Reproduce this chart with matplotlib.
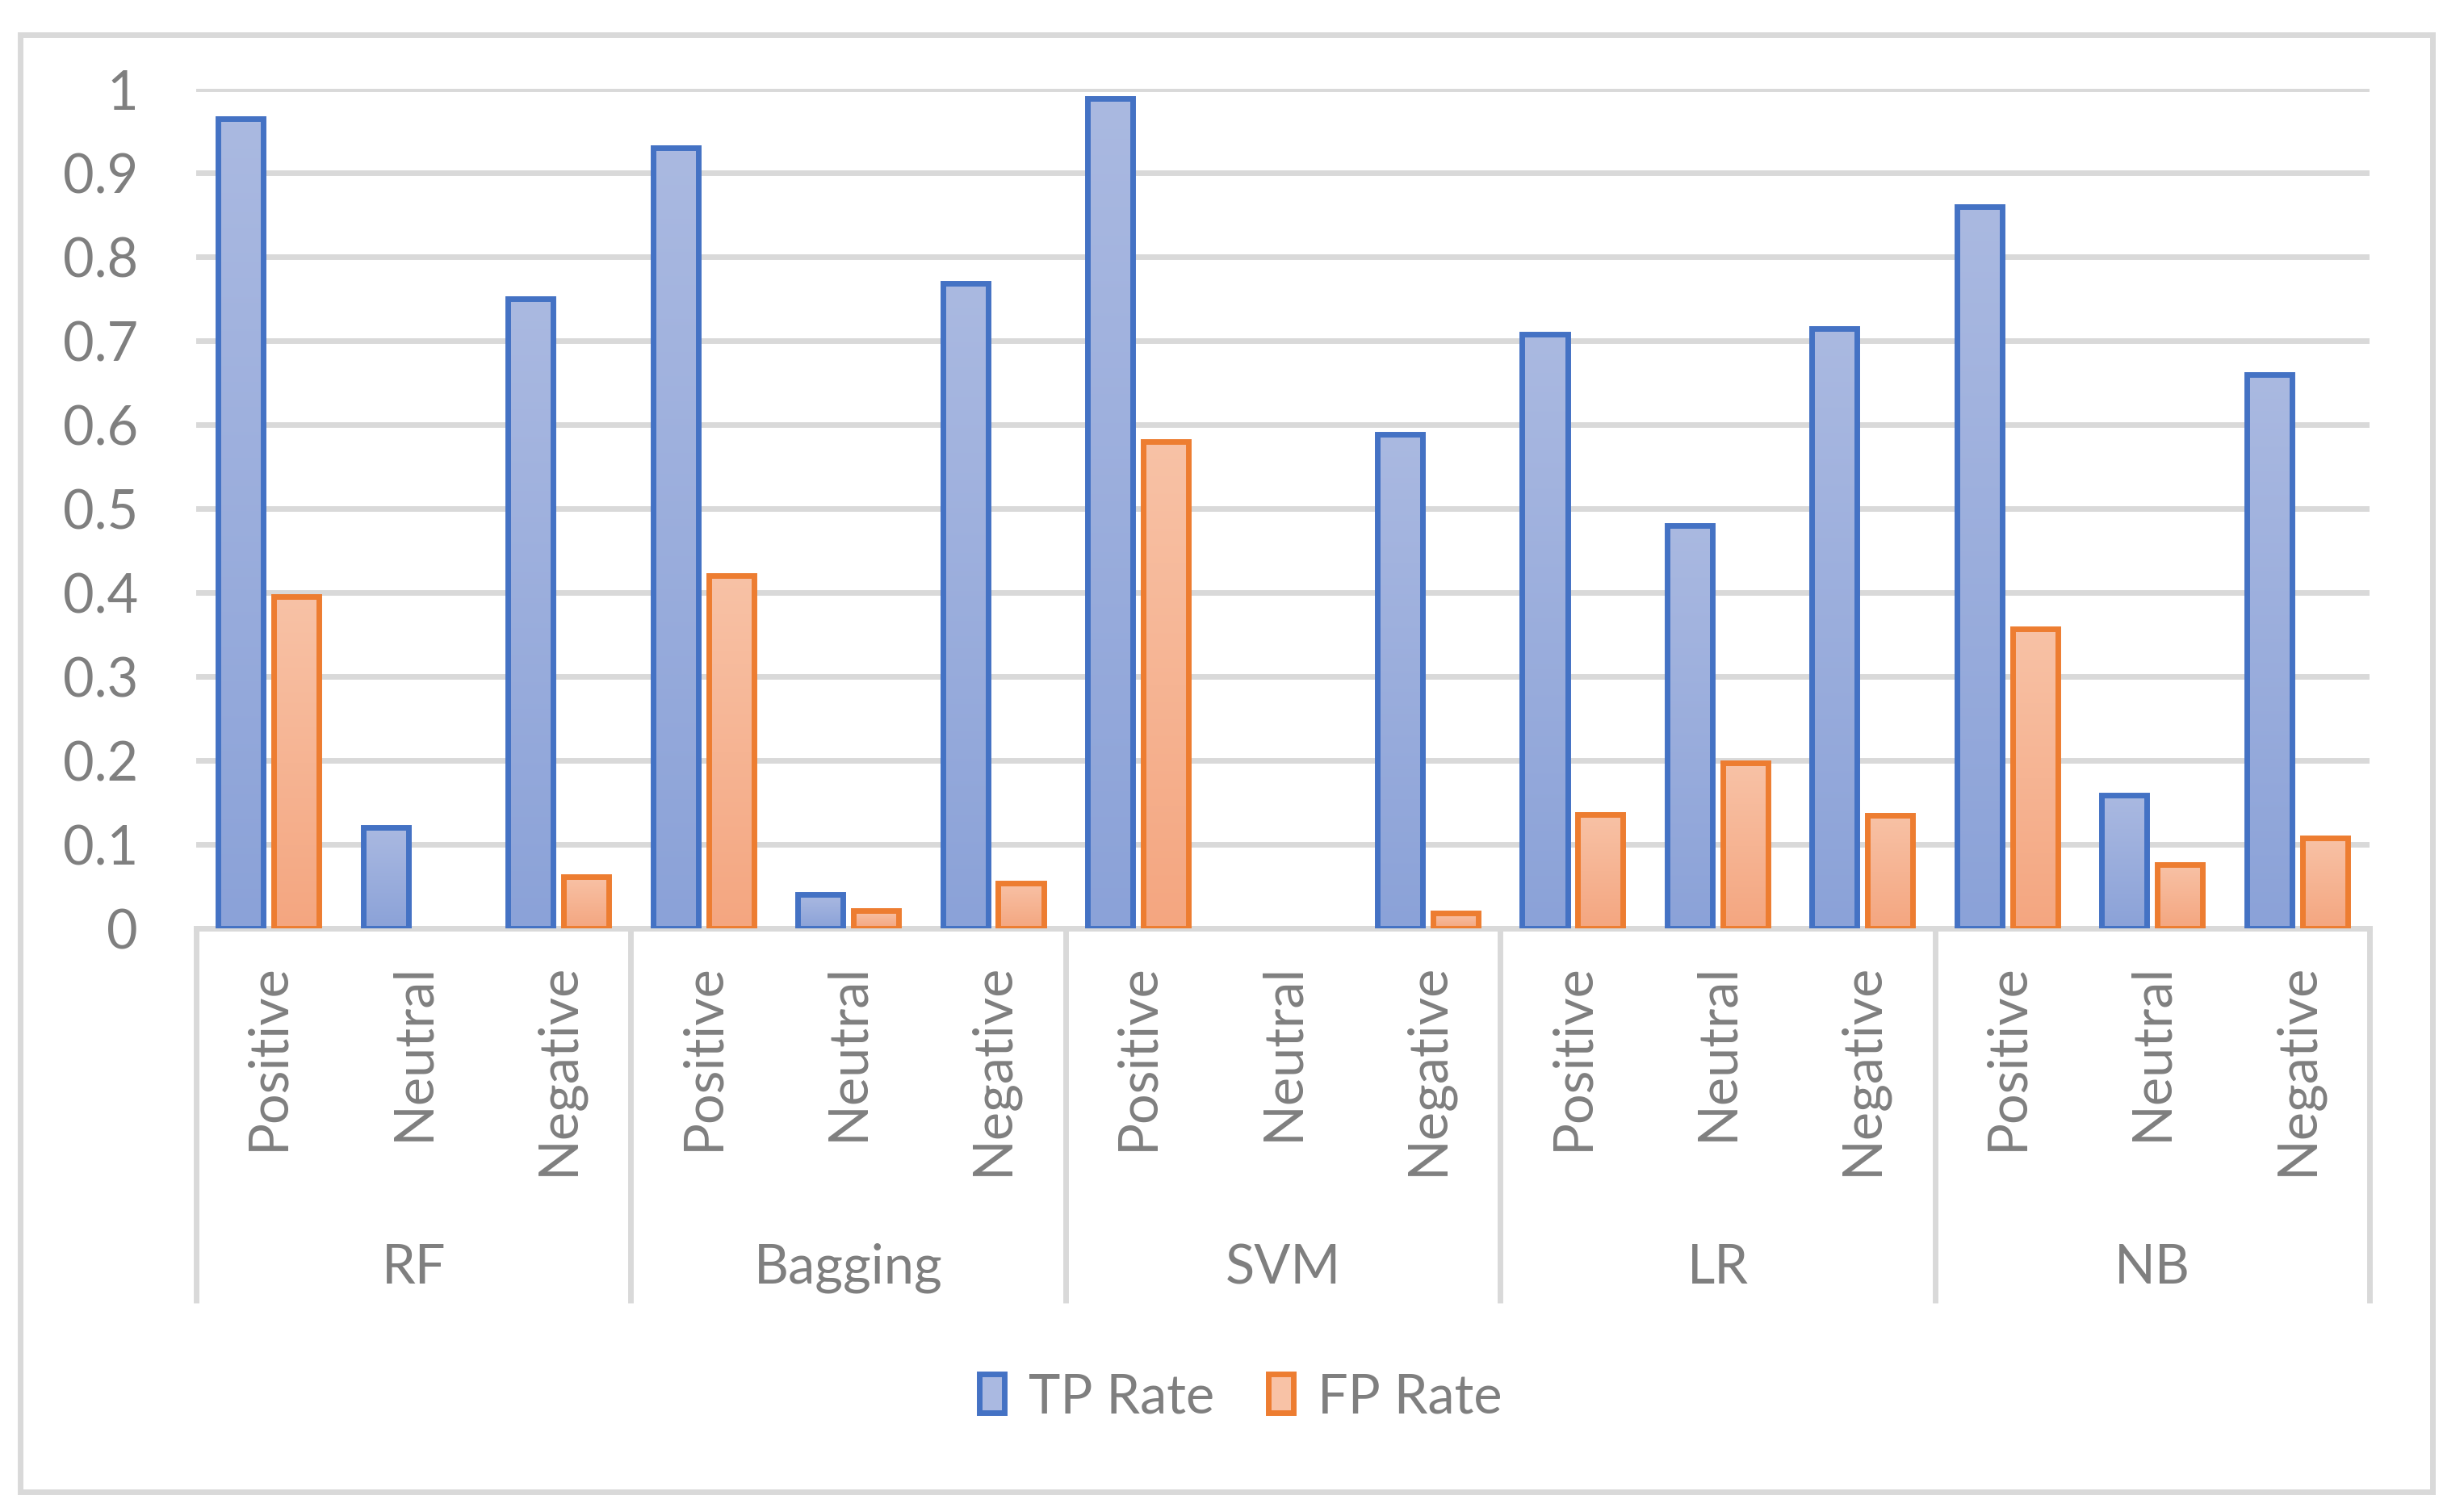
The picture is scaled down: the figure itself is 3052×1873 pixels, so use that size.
import numpy as np
import matplotlib
matplotlib.use('Agg')
import matplotlib.pyplot as plt
from matplotlib.patches import Rectangle, Patch
from matplotlib.colors import LinearSegmentedColormap
import matplotlib.transforms as mtrans

# ---------------- data ----------------
models = ['RF', 'Bagging', 'SVM', 'LR', 'NB']
classes = ['Positive', 'Neutral', 'Negative']
tp_rate = [0.964, 0.12, 0.75,
           0.93, 0.04, 0.768,
           0.988, 0.0, 0.588,
           0.708, 0.48, 0.714,
           0.86, 0.159, 0.66]
fp_rate = [0.395, 0.0, 0.062,
           0.42, 0.021, 0.054,
           0.58, 0.0, 0.018,
           0.136, 0.197, 0.135,
           0.357, 0.076, 0.108]
series_names = ['TP Rate', 'FP Rate']
yticks = [0, 0.1, 0.2, 0.3, 0.4, 0.5, 0.6, 0.7, 0.8, 0.9, 1.0]
ytick_labels = ['0', '0.1', '0.2', '0.3', '0.4', '0.5', '0.6', '0.7', '0.8', '0.9', '1']

# ---------------- style ----------------
plt.rcParams['font.family'] = ['Lato', 'DejaVu Sans']
TXT = '#7F7F7F'
GRID = '#D9D9D9'
FS = 24
LW = 2.5
edge_colors = ['#4472C4', '#ED7D31']
grad_colors = [('#8BA2D8', '#AAB9E1'), ('#F4A680', '#F8C2A6')]  # (bottom, top)

W, H, DPI = 3052, 1874, 200
fig = plt.figure(figsize=(W / DPI, H / DPI), dpi=DPI)
ax = fig.add_axes([243 / W, (H - 1151) / H, (2935 - 243) / W, 1040 / H])

n = len(tp_rate)
x = np.arange(n)
bw = 0.313
off = 0.192
grad = np.linspace(0, 1, 256).reshape(-1, 1)

for k, vals in enumerate([tp_rate, fp_rate]):
    pos = x + (-off if k == 0 else off)
    ecs = [edge_colors[k] if v > 0 else 'none' for v in vals]
    bars = ax.bar(pos, vals, width=bw, facecolor='none', edgecolor=ecs,
                  linewidth=LW, zorder=3)
    cmap = LinearSegmentedColormap.from_list('g%d' % k, list(grad_colors[k]))
    for b, v in zip(bars, vals):
        if v <= 0:
            continue
        x0 = b.get_x()
        im = ax.imshow(grad, extent=[x0, x0 + b.get_width(), 0, v],
                       origin='lower', aspect='auto', cmap=cmap, zorder=2,
                       interpolation='bilinear')
        im.set_clip_path(b)

ax.set_xlim(-0.5, n - 0.5)
ax.set_ylim(0, 1)
ax.set_yticks(yticks)
ax.set_yticklabels(ytick_labels)
ax.set_xticks([])
ax.tick_params(axis='y', length=0, pad=26, labelsize=FS, labelcolor=TXT)
ax.yaxis.grid(True, color=GRID, linewidth=LW)
ax.set_axisbelow(True)
for s in ['top', 'right', 'left']:
    ax.spines[s].set_visible(False)
ax.spines['bottom'].set_color(GRID)
ax.spines['bottom'].set_linewidth(LW)

trans = mtrans.blended_transform_factory(ax.transData, ax.transAxes)
# category labels
for i in range(n):
    ax.annotate(classes[i % 3], xy=(i, 0), xycoords=trans, xytext=(0, -15),
                textcoords='offset points', rotation=90, ha='center', va='top',
                fontsize=FS, color=TXT)
# group labels
for g, m in enumerate(models):
    ax.text(3 * g + 1, -0.404, m, transform=trans, ha='center', va='center',
            fontsize=FS, color=TXT)
# group separators
for g in range(len(models) + 1):
    bx = 3 * g - 0.5
    ax.plot([bx, bx], [0, -0.446], transform=trans, color=GRID, linewidth=LW,
            clip_on=False, solid_capstyle='butt')

# legend
handles = [Patch(facecolor=grad_colors[k][1], edgecolor=edge_colors[k], linewidth=LW)
           for k in range(2)]
leg = fig.legend(handles, series_names, loc='center', bbox_to_anchor=(0.5036, 0.076),
                 ncol=2, frameon=False, fontsize=FS, handlelength=0.47,
                 handleheight=0.73, handletextpad=0.45, columnspacing=1.0)
for t in leg.get_texts():
    t.set_color(TXT)

# outer border
fig.add_artist(Rectangle((25 / W, 25 / H), (3013 - 25) / W, (1852 - 25 - 22) / H,
                         transform=fig.transFigure, fill=False, edgecolor=GRID,
                         linewidth=LW))

fig.savefig('out.png', dpi=DPI, facecolor='white')
